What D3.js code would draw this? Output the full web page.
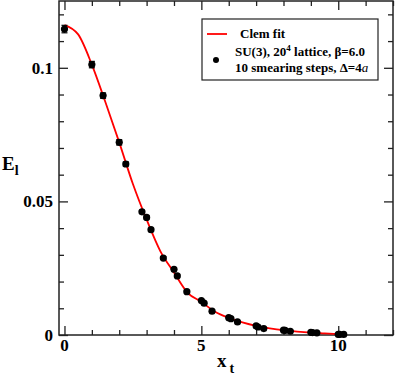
<!DOCTYPE html>
<html><head><meta charset="utf-8">
<script src="https://cdn.jsdelivr.net/npm/d3@7"></script>
<style>body{margin:0;background:#fff}svg{display:block}text{font-family:"Liberation Serif","DejaVu Serif",serif;font-weight:bold}</style>
</head><body><svg id="c" width="395" height="377"></svg>
<script>
// data points (x_t, E_l, error)
const xVals = [0,1.0,1.41,2.0,2.24,2.83,3.0,3.16,3.61,4.0,4.12,4.47,5.0,5.1,5.39,6.0,6.08,6.32,7.0,7.07,7.28,8.0,8.06,8.25,9.0,9.06,9.22,10.0,10.05,10.2];
const yVals = [0.1145,0.1012,0.0896,0.0721,0.0640,0.0461,0.0440,0.0394,0.0288,0.0246,0.0221,0.0162,0.0129,0.0119,0.0089,0.0065,0.0061,0.0049,0.0034,0.0030,0.0024,0.0018,0.0017,0.0014,0.0010,0.0009,0.0008,0.0002,0.0002,0.0002];
const yErrs = [0.0014,0.0012,0.0010,0.0010,0.0008,0.0006,0.0006,0.0005,0.0005,0.0004,0.0004,0.0004,0.0003,0.0003,0.0003,0.0003,0.0003,0.0003,0.0002,0.0002,0.0002,0.0002,0.0002,0.0002,0.0002,0.0002,0.0002,0.0002,0.0002,0.0002];
// Clem fit curve
const fitX = [0,0.5,1,1.5,2,2.5,3,3.5,4,4.5,5,5.5,6,6.5,7,7.5,8,8.5,9,9.5,10,10.2];
const fitY = [0.1160,0.1125,0.1012,0.0870,0.0721,0.0565,0.0432,0.0314,0.0234,0.0158,0.0124,0.0087,0.0064,0.0047,0.0034,0.0025,0.0018,0.0013,0.0009,0.0006,0.0003,0.0002];
const xMajor = [0,5,10];
const yMajor = [0,0.05,0.1];
const yMajorLabels = ["0","0.05","0.1"];

const svg = d3.select("#c");
const L=59,R=393,T=1,B=335;
const x = d3.scaleLinear().domain([-0.2,12]).range([L,R]);
const y = d3.scaleLinear().domain([0,0.125]).range([B,T]);

// frame
svg.append("rect").attr("x",L).attr("y",T).attr("width",R-L).attr("height",B-T)
  .attr("fill","none").attr("stroke","#222").attr("stroke-width",1.5);

const xMinor = d3.range(0,13,1).filter(v=>!xMajor.includes(v));
const yMinor = d3.range(0,0.125,0.01).map(v=>+v.toFixed(2)).filter(v=>v%0.05>1e-9 && Math.abs(v%0.05-0.05)>1e-9);

// axes with inward ticks using d3 axes
function ax(gen, tr, vals, size){
  const g = svg.append("g").attr("transform",tr).call(gen.tickValues(vals).tickSize(size).tickFormat(""));
  g.select(".domain").remove();
  g.selectAll(".tick line").attr("stroke","#222").attr("stroke-width",1.3);
  return g;
}
ax(d3.axisTop(x), `translate(0,${B})`, xMajor, 9);
ax(d3.axisTop(x), `translate(0,${B})`, xMinor, 5);
ax(d3.axisBottom(x), `translate(0,${T})`, xMajor, 9);
ax(d3.axisBottom(x), `translate(0,${T})`, xMinor, 5);
ax(d3.axisRight(y), `translate(${L},0)`, yMajor, 9);
ax(d3.axisRight(y), `translate(${L},0)`, yMinor, 5);
ax(d3.axisLeft(y), `translate(${R},0)`, yMajor, 9);
ax(d3.axisLeft(y), `translate(${R},0)`, yMinor, 5);

// tick labels
svg.selectAll(".xl").data(xMajor).enter().append("text")
  .attr("x",d=>x(d)).attr("y",351).attr("text-anchor","middle").attr("font-size",17).text(d=>d);
svg.selectAll(".yl").data(yMajor).enter().append("text")
  .attr("x",53).attr("y",d=>y(d)+6).attr("text-anchor","end").attr("font-size",17).text((d,i)=>yMajorLabels[i]);

// axis titles
const xt = svg.append("text").attr("x",217).attr("y",367).attr("font-size",19);
xt.append("tspan").text("x");
xt.append("tspan").attr("dx",3).attr("dy",6).attr("font-size",14).text("t");
const yt = svg.append("text").attr("x",2).attr("y",170).attr("font-size",19);
yt.append("tspan").text("E");
yt.append("tspan").attr("dx",0).attr("dy",5).attr("font-size",14).text("l");

// fit curve
const fit = fitX.map((v,i)=>[v,fitY[i]]);
svg.append("path").datum(fit).attr("fill","none").attr("stroke","#ff0000").attr("stroke-width",1.8)
  .attr("d", d3.line().x(d=>x(d[0])).y(d=>y(d[1])).curve(d3.curveMonotoneX));

// error bars + points
const pts = xVals.map((v,i)=>({x:v,y:yVals[i],e:yErrs[i]}));
const eb = svg.append("g").attr("stroke","#000").attr("stroke-width",1.2);
pts.forEach(p=>{
  eb.append("line").attr("x1",x(p.x)).attr("x2",x(p.x)).attr("y1",y(p.y-p.e)).attr("y2",y(p.y+p.e));
  [p.y-p.e,p.y+p.e].forEach(v=>eb.append("line").attr("x1",x(p.x)-3).attr("x2",x(p.x)+3).attr("y1",y(v)).attr("y2",y(v)));
});
svg.append("g").selectAll("circle").data(pts).enter().append("circle")
  .attr("cx",d=>x(d.x)).attr("cy",d=>y(d.y)).attr("r",3.6).attr("fill","#000");

// legend
const lg = svg.append("g");
lg.append("rect").attr("x",202).attr("y",19).attr("width",176).attr("height",61)
  .attr("fill","#fff").attr("stroke","#222").attr("stroke-width",1.2);
lg.append("line").attr("x1",207).attr("x2",227).attr("y1",34).attr("y2",34).attr("stroke","#ff0000").attr("stroke-width",1.8);
lg.append("text").attr("x",240).attr("y",38).attr("font-size",13).text("Clem fit");
lg.append("circle").attr("cx",216).attr("cy",60).attr("r",3).attr("fill","#000");
const t1 = lg.append("text").attr("x",235).attr("y",56).attr("font-size",13);
t1.append("tspan").text("SU(3), 20");
t1.append("tspan").attr("dy",-5).attr("font-size",9).text("4");
t1.append("tspan").attr("dy",5).text(" lattice, β=6.0");
const t2 = lg.append("text").attr("x",235).attr("y",72).attr("font-size",13);
t2.append("tspan").text("10 smearing steps, Δ=4");
t2.append("tspan").attr("font-style","italic").attr("font-weight","normal").text("a");
</script></body></html>
